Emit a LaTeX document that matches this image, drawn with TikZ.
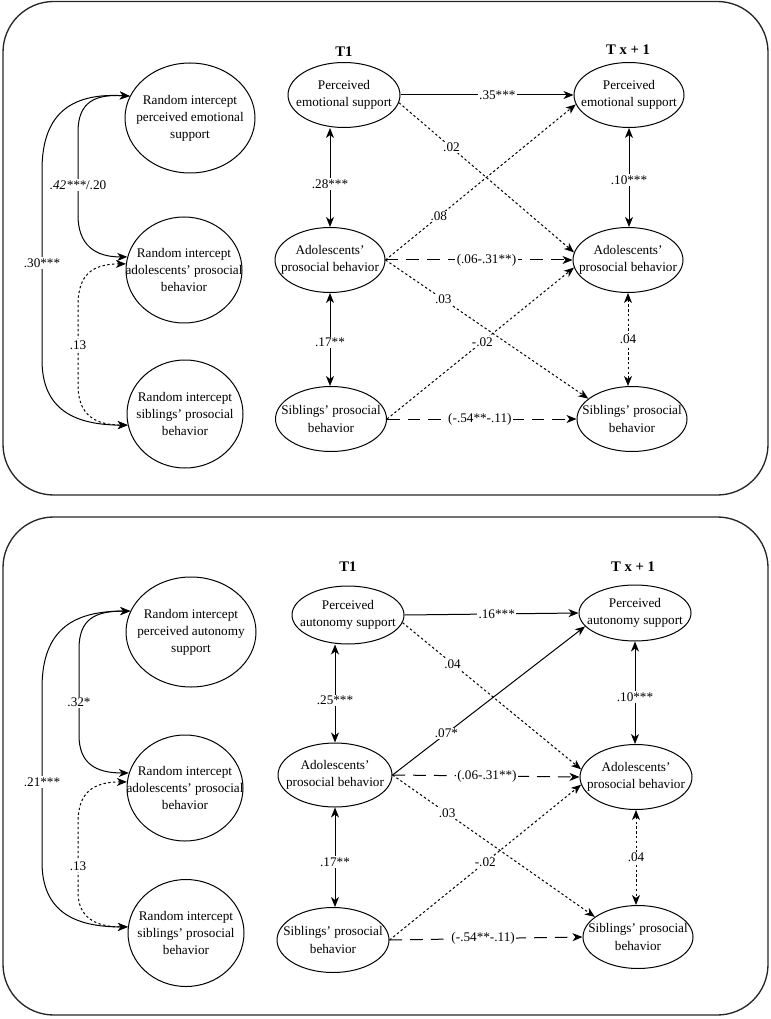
\documentclass[tikz,border=0pt]{standalone}
\usepackage{fontspec}
\setmainfont{Liberation Serif}
\usetikzlibrary{shapes.geometric,arrows.meta}

\begin{document}
\begin{tikzpicture}[x=0.75pt,y=0.75pt,
  font=\fontsize{9.9}{12.8}\selectfont,
  panel/.style={draw=black!85, line width=1pt, rounded corners=38pt},
  oval/.style args={#1x#2}{draw, ellipse, inner sep=0pt, line width=0.75pt,
    minimum width=#1*0.75pt, minimum height=#2*0.75pt},
  txt/.style={align=center, inner sep=0pt},
  head/.style={font=\fontsize{11}{12}\selectfont\bfseries},
  lbl/.style={fill=white, inner sep=1pt},
  conn/.style={line width=0.75pt},
  onehead/.style={-{Stealth[length=7.5pt,width=6pt,inset=2.2pt]}},
  twohead/.style={{Stealth[length=7.5pt,width=6pt,inset=2.2pt]}-{Stealth[length=7.5pt,width=6pt,inset=2.2pt]}},
  dotln/.style={dash pattern=on 1.8pt off 1.8pt},
  dashln/.style={dash pattern=on 9.5pt off 6pt},
]
\useasboundingbox (0,0) rectangle (770,-1019);

% ---------------- panel A: emotional support ----------------
\draw[panel] (3,-1.5) rectangle (768,-495);

\node[oval=130x110, label={[txt]center:Random intercept\\perceived emotional\\support}] (ri1) at (190,-118) {};
\node[oval=116x106, label={[txt]center:Random intercept\\adolescents' prosocial\\behavior}] (ri2) at (184,-270) {};
\node[oval=116x108, label={[txt]center:Random intercept\\siblings' prosocial\\behavior}] (ri3) at (185,-414) {};

\node[head] (t1) at (344,-52) {T1};
\node[head] (tx) at (628,-50) {T x + 1};

\node[oval=112x65, label={[txt]center:Perceived\\emotional support}] (pa1) at (344,-95) {};
\node[oval=110x65, label={[txt]center:Adolescents'\\prosocial behavior}] (ad1) at (330,-260) {};
\node[oval=111x65, label={[txt]center:Siblings' prosocial\\behavior}] (sb1) at (331,-419) {};
\node[oval=110x65, label={[txt]center:Perceived\\emotional support}] (pa2) at (629,-95) {};
\node[oval=110x65, label={[txt]center:Adolescents'\\prosocial behavior}] (ad2) at (628,-260) {};
\node[oval=110x65, label={[txt]center:Siblings' prosocial\\behavior}] (sb2) at (632,-419) {};

% random-intercept covariances
\draw[conn,twohead] (ri1.160) .. controls (75,-93) and (42,-110) .. (42,-170)
  -- node[lbl,pos=0.49] {.30***} (42,-360)
  .. controls (42,-410) and (75,-425) .. (ri3.191);
\draw[conn,twohead] (ri1.160) .. controls (95,-94) and (78,-102) .. (78,-132)
  -- node[lbl,pos=0.64] {\textit{.42***}/.20} (78,-215)
  .. controls (78,-245) and (95,-257) .. (ri2.167);
\draw[conn,dotln,twohead] (ri2.174) .. controls (92,-264) and (78,-275) .. (78,-305)
  -- node[lbl,pos=0.5] {.13} (78,-385)
  .. controls (78,-415) and (95,-425) .. (ri3.191);

% within-time covariances
\draw[conn,twohead] (ad1.north |- pa1.south) -- node[lbl,pos=0.565] {.28***} (ad1.north);
\draw[conn,twohead] (ad1.south) -- node[lbl,pos=0.53] {.17**} (ad1.south |- sb1.north);
\draw[conn,twohead] (pa2.south) -- node[lbl,pos=0.525] {.10***} (pa2.south |- ad2.north);
\draw[conn,dotln,twohead] (ad2.south) -- node[lbl,pos=0.5] {.04} (ad2.south |- sb2.north);

% cross-lagged paths
\draw[conn,onehead] (pa1.east) -- node[lbl,pos=0.56] {.35***} (pa2.west);
\draw[conn,dotln,onehead] (pa1.352) -- node[lbl,pos=0.30] {.02} (ad2.172);
\draw[conn,dotln,onehead] (ad1.east) -- node[lbl,pos=0.28] {.08} (pa2.190);
\draw[conn,dashln,onehead] (ad1.east) -- node[lbl,pos=0.54] {(.06-.31**)} (ad2.west);
\draw[conn,dotln,onehead] (ad1.east) -- node[lbl,pos=0.285] {.03} (sb2.155);
\draw[conn,dotln,onehead] (sb1.east) -- node[lbl,pos=0.51] {-.02} (ad2.188);
\draw[conn,dashln,onehead] (sb1.east) -- node[lbl,pos=0.49] {(-.54**-.11)} (sb2.west);

% ---------------- panel B: autonomy support ----------------
\draw[panel] (3,-517) rectangle (768,-1015);

\node[oval=130x110, label={[txt]center:Random intercept\\perceived autonomy\\support}] (ri1b) at (191,-632) {};
\node[oval=116x106, label={[txt]center:Random intercept\\adolescents' prosocial\\behavior}] (ri2b) at (185,-788) {};
\node[oval=116x107, label={[txt]center:Random intercept\\siblings' prosocial\\behavior}] (ri3b) at (186,-933) {};

\node[head] (t1b) at (348,-567) {T1};
\node[head] (txb) at (633,-567) {T x + 1};

\node[oval=112x58, label={[txt]center:Perceived\\autonomy support}] (pa1b) at (348,-615) {};
\node[oval=114x64, label={[txt]center:Adolescents'\\prosocial behavior}] (ad1b) at (335,-775) {};
\node[oval=112x65, label={[txt]center:Siblings' prosocial\\behavior}] (sb1b) at (333,-940) {};
\node[oval=112x56, label={[txt]center:Perceived\\autonomy support}] (pa2b) at (635,-613) {};
\node[oval=112x65, label={[txt]center:Adolescents'\\prosocial behavior}] (ad2b) at (636,-777) {};
\node[oval=110x63, label={[txt]center:Siblings' prosocial\\behavior}] (sb2b) at (638,-937) {};

% random-intercept covariances
\draw[conn,twohead] (ri1b.161) .. controls (75,-611) and (42,-628) .. (42,-688)
  -- node[lbl,pos=0.54] {.21***} (42,-862)
  .. controls (42,-912) and (75,-927) .. (ri3b.174);
\draw[conn,twohead] (ri1b.161) .. controls (95,-611) and (79,-619) .. (79,-649)
  -- node[lbl,pos=0.62] {.32*} (79,-735)
  .. controls (79,-763) and (95,-773) .. (ri2b.165);
\draw[conn,dotln,twohead] (ri2b.174) .. controls (92,-782) and (78,-793) .. (78,-823)
  -- node[lbl,pos=0.62] {.13} (78,-892)
  .. controls (78,-917) and (95,-927) .. (ri3b.174);

% within-time covariances
\draw[conn,twohead] (ad1b.north |- pa1b.south) -- node[lbl,pos=0.57] {.25***} (ad1b.north);
\draw[conn,twohead] (ad1b.south) -- node[lbl,pos=0.55] {.17**} (ad1b.south |- sb1b.north);
\draw[conn,twohead] (pa2b.south) -- node[lbl,pos=0.54] {.10***} (pa2b.south |- ad2b.north);
\draw[conn,dotln,twohead] (ad2b.south) -- node[lbl,pos=0.5] {.04} (ad2b.south |- sb2b.north);

% cross-lagged paths
\draw[conn,onehead] (pa1b.east) -- node[lbl,pos=0.53] {.16***} (pa2b.west);
\draw[conn,dotln,onehead] (pa1b.352) -- node[lbl,pos=0.28] {.04} (ad2b.172);
\draw[conn,onehead] (ad1b.east) -- node[lbl,pos=0.28] {.07*} (pa2b.195);
\draw[conn,dashln,onehead] (ad1b.east) -- node[lbl,pos=0.505] {(.06-.31**)} (ad2b.west);
\draw[conn,dotln,onehead] (ad1b.east) -- node[lbl,pos=0.27] {.03} (sb2b.155);
\draw[conn,dotln,onehead] (sb1b.east) -- node[lbl,pos=0.5] {-.02} (ad2b.188);
\draw[conn,dashln,onehead] (sb1b.east) -- node[lbl,pos=0.485] {(-.54**-.11)} (sb2b.west);
\end{tikzpicture}
\end{document}
